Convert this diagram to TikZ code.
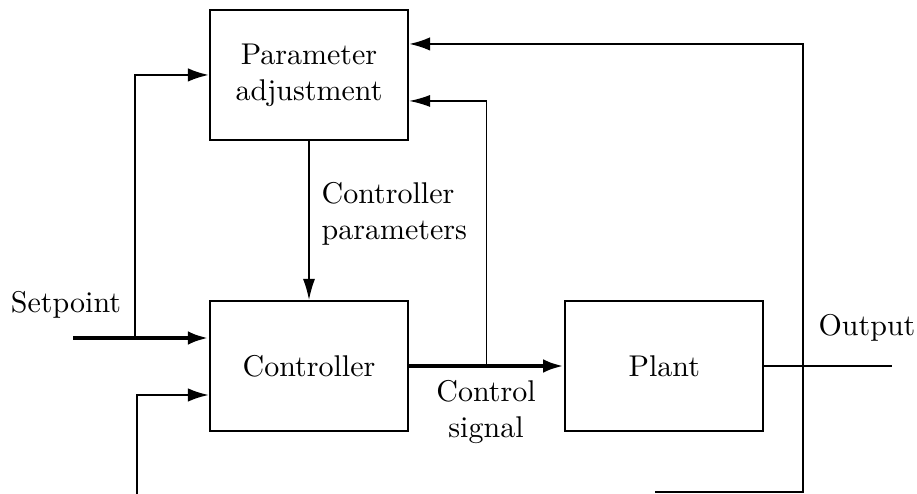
\documentclass[tikz,border=0pt]{standalone}
\usepackage{tikz}
\usetikzlibrary{arrows.meta,positioning,calc}

\begin{document}
\begin{tikzpicture}[
    x=0.3333pt, y=-0.3333pt,
    node distance=53pt and 51.7pt,
    block/.style={draw, line width=0.7pt, align=center, minimum height=43.3pt, minimum width=66pt, inner sep=0pt},
    arrow/.style={-{Latex[length=7pt,width=4.5pt]}, line width=0.8pt},
    mainarrow/.style={-{Latex[length=7pt,width=4.5pt]}, line width=1.4pt},
    thinarrow/.style={-{Latex[length=7pt,width=4pt]}, line width=0.5pt},
    signal/.style={line width=0.5pt},
    tag/.style={align=center, inner sep=0pt}
]
\useasboundingbox (0,0) rectangle (917,494);
\node[block] (ctrl) at (309,366) {Controller};
\node[block, above=of ctrl] (adjust) {Parameter\\adjustment};
\node[block, right=of ctrl] (plant) {Plant};
% free ends of the signal lines
\coordinate (sp) at (73,338);
\coordinate (spfork) at (135,338);
\coordinate (csfork) at ($(ctrl.east)!0.5!(plant.west)$);
\coordinate (outend) at (892,366);
\coordinate (fbright) at (803,492);
\coordinate (fbend) at (655,492);
\coordinate (fbleft) at (137,494);
\draw[mainarrow] (sp) -- (sp -| ctrl.west);
\draw[arrow] (spfork) |- (adjust.west);
\draw[thinarrow] (adjust) -- (ctrl);
\draw[mainarrow] (ctrl) -- (plant);
\draw[thinarrow] (csfork) |- ($(adjust.east)+(0,26)$);
\draw[signal] (plant) -- (outend);
\draw[arrow] (fbend) -- (fbright) |- ($(adjust.east)+(0,-31)$);
\draw[arrow] (fbleft) |- ($(ctrl.west)+(0,29)$);
\node[tag] (setpointlbl) at (66,305) {Setpoint};
\node[tag, align=left, anchor=west] (paramlbl) at (321,214) {Controller\\parameters};
\node[tag] (cslbl) at (486,412) {Control\\signal};
\node[tag] (outlbl) at (867,328) {Output};
\end{tikzpicture}
\end{document}
